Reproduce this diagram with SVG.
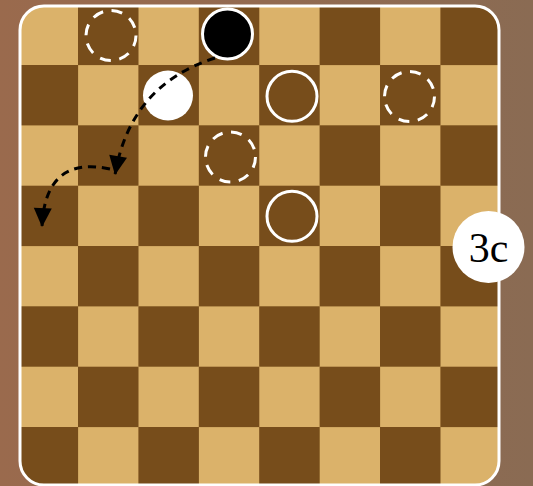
<svg xmlns="http://www.w3.org/2000/svg" width="533" height="486" viewBox="0 0 533 486">
  <defs>
    <linearGradient id="bg" x1="0" y1="0" x2="1" y2="0">
      <stop offset="0" stop-color="#9A6A4D"/>
      <stop offset="0.5" stop-color="#926A50"/>
      <stop offset="1" stop-color="#8A6B53"/>
    </linearGradient>
    <clipPath id="boardClip">
      <rect x="20" y="6" width="479" height="479" rx="24" ry="24"/>
    </clipPath>
    <marker id="arrow" markerUnits="userSpaceOnUse" markerWidth="22" markerHeight="20" refX="19" refY="9" orient="auto" overflow="visible">
      <path d="M0,0 L19,9 L0,18 Z" fill="#000"/>
    </marker>
    <style>
      .dark { fill: #774D1B; }
      .hollow { fill: none; stroke: #fff; stroke-width: 3; }
      .ghost { fill: none; stroke: #fff; stroke-width: 3; stroke-dasharray: 11 8.6; }
      .move { fill: none; stroke: #000; stroke-width: 3; stroke-dasharray: 8 6; marker-end: url(#arrow); }
      .label { font-family: "Liberation Serif", "Times New Roman", serif; font-size: 42px; fill: #000; }
    </style>
  </defs>
  <rect x="0" y="0" width="533" height="486" fill="url(#bg)"/>
  <g id="board">
    <g clip-path="url(#boardClip)">
      <rect x="0" y="0" width="533" height="486" fill="#DBB26A"/>
      <g class="dark">
        <rect x="78" y="4.7" width="60.5" height="60.4"/><rect x="198.8" y="4.7" width="60.5" height="60.4"/><rect x="319.6" y="4.7" width="60.5" height="60.4"/><rect x="440.4" y="4.7" width="60.5" height="60.4"/>
        <rect x="17.6" y="65" width="60.5" height="60.4"/><rect x="138.4" y="65" width="60.5" height="60.4"/><rect x="259.2" y="65" width="60.5" height="60.4"/><rect x="380" y="65" width="60.5" height="60.4"/>
        <rect x="78" y="125.3" width="60.5" height="60.4"/><rect x="198.8" y="125.3" width="60.5" height="60.4"/><rect x="319.6" y="125.3" width="60.5" height="60.4"/><rect x="440.4" y="125.3" width="60.5" height="60.4"/>
        <rect x="17.6" y="185.7" width="60.5" height="60.4"/><rect x="138.4" y="185.7" width="60.5" height="60.4"/><rect x="259.2" y="185.7" width="60.5" height="60.4"/><rect x="380" y="185.7" width="60.5" height="60.4"/>
        <rect x="78" y="246" width="60.5" height="60.4"/><rect x="198.8" y="246" width="60.5" height="60.4"/><rect x="319.6" y="246" width="60.5" height="60.4"/><rect x="440.4" y="246" width="60.5" height="60.4"/>
        <rect x="17.6" y="306.3" width="60.5" height="60.4"/><rect x="138.4" y="306.3" width="60.5" height="60.4"/><rect x="259.2" y="306.3" width="60.5" height="60.4"/><rect x="380" y="306.3" width="60.5" height="60.4"/>
        <rect x="78" y="366.7" width="60.5" height="60.4"/><rect x="198.8" y="366.7" width="60.5" height="60.4"/><rect x="319.6" y="366.7" width="60.5" height="60.4"/><rect x="440.4" y="366.7" width="60.5" height="60.4"/>
        <rect x="17.6" y="427" width="60.5" height="60.4"/><rect x="138.4" y="427" width="60.5" height="60.4"/><rect x="259.2" y="427" width="60.5" height="60.4"/><rect x="380" y="427" width="60.5" height="60.4"/>
      </g>
    </g>
    <rect x="20" y="6" width="479" height="479" rx="24" ry="24" fill="none" stroke="#fff" stroke-width="3"/>
  </g>
  <g id="ghost-b1"><circle class="ghost" cx="111" cy="35.5" r="25"/></g>
  <g id="ghost-g2"><circle class="ghost" cx="409.5" cy="96.5" r="25"/></g>
  <g id="ghost-d3"><circle class="ghost" cx="230.5" cy="157" r="25"/></g>
  <g id="black-piece"><circle cx="227.5" cy="34" r="25" fill="#000" stroke="#fff" stroke-width="3"/></g>
  <g id="white-piece"><circle cx="168" cy="95.5" r="25" fill="#fff"/></g>
  <g id="hollow-e2"><circle class="hollow" cx="292" cy="96.3" r="25"/></g>
  <g id="hollow-e4"><circle class="hollow" cx="292" cy="216.3" r="25"/></g>
  <g id="connectors">
    <path class="move" d="M215,58 Q130,85 115,175"/>
    <path class="move" d="M110,169 Q45,155 42,227"/>
  </g>
  <g id="badge">
    <circle cx="488.5" cy="247" r="36" fill="#fff"/>
    <text class="label" x="488.5" y="262" text-anchor="middle">3c</text>
  </g>
</svg>
